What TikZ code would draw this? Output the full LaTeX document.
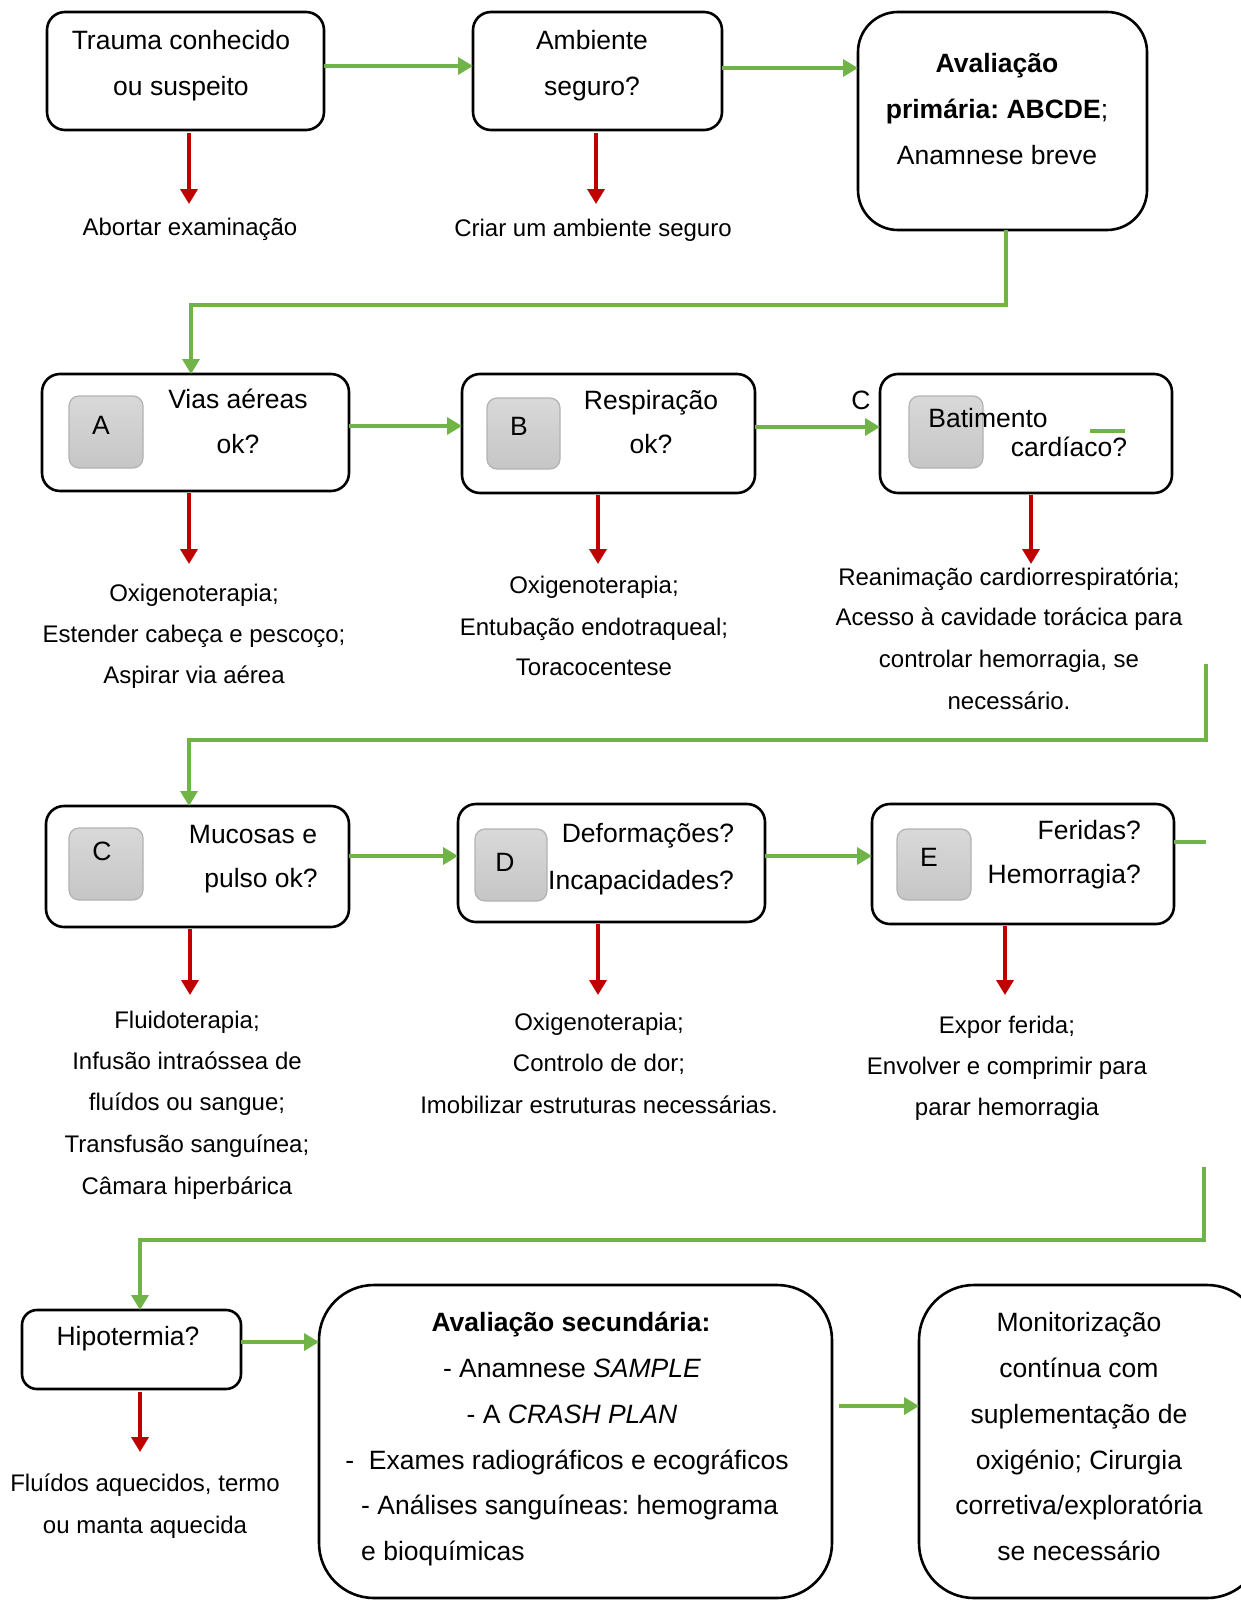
\documentclass[tikz,border=0pt]{standalone}
\usepackage{fontspec}
\setmainfont{Liberation Sans}
\usetikzlibrary{arrows.meta}
\definecolor{grn}{RGB}{112,180,71}
\definecolor{rd}{RGB}{192,0,0}
\frenchspacing
\begin{document}
\begin{tikzpicture}[x=1pt,y=-1pt,
  box/.style={draw=black, line width=2.6pt, rounded corners=18pt, inner sep=0pt, outer sep=0pt},
  sq/.style={draw=gray!60, line width=1.2pt, rounded corners=10pt, top color=gray!30, bottom color=gray!45, minimum width=74pt, minimum height=72pt, inner sep=0pt},
  ga/.style={draw=grn, line width=3.5pt, -{Triangle[length=15pt,width=17pt]}},
  gl/.style={draw=grn, line width=3.5pt},
  ra/.style={draw=rd, line width=3.5pt, -{Triangle[length=15pt,width=17pt]}},
  bt/.style={font=\fontsize{26.5}{30}\selectfont, anchor=base, inner sep=0pt},
  lb/.style={font=\fontsize{24}{28}\selectfont, anchor=base, inner sep=0pt}]
\useasboundingbox (0,0) rectangle (1241,1600);
\clip (0,0) rectangle (1241,1600);

% boxes
\node[box, minimum width=277pt, minimum height=118pt] (b1) at (185.5,71) {};
\node[box, minimum width=249pt, minimum height=118pt] (b2) at (597.5,71) {};
\node[box, rounded corners=40pt, minimum width=289pt, minimum height=218pt] (b3) at (1002.5,121) {};
\node[box, minimum width=307pt, minimum height=117pt] (bA) at (195.5,432.5) {};
\node[box, minimum width=293pt, minimum height=119pt] (bB) at (608.5,433.5) {};
\node[box, minimum width=292pt, minimum height=119pt] (bC) at (1026,433.5) {};
\node[box, minimum width=303pt, minimum height=121pt] (bC2) at (197.5,866.5) {};
\node[box, minimum width=307pt, minimum height=118pt] (bD) at (611.5,863) {};
\node[box, minimum width=302pt, minimum height=120pt] (bE) at (1023,864) {};
\node[box, rounded corners=15pt, minimum width=219pt, minimum height=79pt] (bH) at (131.5,1349.5) {};
\node[box, rounded corners=55pt, minimum width=513pt, minimum height=313pt] (bS) at (575.5,1441.5) {};
\node[box, rounded corners=55pt, minimum width=343pt, minimum height=313pt] (bM) at (1090.5,1441.5) {};

% grey letter squares
\node[sq] (sA) at (106,432) {};
\node[sq, minimum width=73pt, minimum height=71pt] (sB) at (523.5,433.5) {};
\node[sq] (sC) at (946,432) {};
\node[sq] (sC2) at (106,864) {};
\node[sq, minimum width=72pt] (sD) at (511,865) {};
\node[sq, minimum height=71pt] (sE) at (934,864.5) {};

% box texts
\node[bt] (t1a) at (181,49.5) {Trauma conhecido};
\node[bt] (t1b) at (181,95.5) {ou suspeito};
\node[bt] (t2a) at (592,49.5) {Ambiente};
\node[bt] (t2b) at (592,95.5) {seguro?};
\node[bt] (t3a) at (997,72.5) {\textbf{Avaliação}};
\node[bt] (t3b) at (997,118.5) {\textbf{primária: ABCDE};};
\node[bt] (t3c) at (997,164.5) {Anamnese breve};

\node[bt] (lA) at (101,434.5) {A};
\node[bt] (tAa) at (238,408.5) {Vias aéreas};
\node[bt] (tAb) at (238,453.5) {ok?};
\node[bt] (lB) at (519,435.5) {B};
\node[bt] (tBa) at (651,409.5) {Respiração};
\node[bt] (tBb) at (651,453.5) {ok?};
\node[bt] (lCout) at (861,409.5) {C};
\node[bt] (tCa) at (988,427.5) {Batimento};
\node[bt] (tCb) at (1069,456.5) {cardíaco?};

\node[bt] (lC2) at (102,860.5) {C};
\node[bt] (tC2a) at (253,843.5) {Mucosas e};
\node[bt] (tC2b) at (261,887.5) {pulso ok?};
\node[bt] (lD) at (505,871.5) {D};
\node[bt] (tDa) at (648,842.5) {Deformações?};
\node[bt] (tDb) at (641,889.5) {Incapacidades?};
\node[bt] (lE) at (929,866.5) {E};
\node[bt, anchor=base east] (tEa) at (1141,839.3) {Feridas?};
\node[bt, anchor=base east] (tEb) at (1141,883) {Hemorragia?};

\node[bt] (tH) at (128,1345.5) {Hipotermia?};

\node[bt] (tS1) at (571,1331.5) {\textbf{Avaliação secundária:}};
\node[bt] (tS2) at (572,1377.5) {- Anamnese \textit{SAMPLE}};
\node[bt] (tS3) at (572,1423.5) {- A \textit{CRASH PLAN}};
\node[bt] (tS4) at (567,1469.5) {-\ \ Exames radiográficos e ecográficos};
\node[bt, anchor=base west] (tS5) at (361,1514.5) {- Análises sanguíneas: hemograma};
\node[bt, anchor=base west] (tS6) at (361,1560.5) {e bioquímicas};

\node[bt] (tM1) at (1079,1331.5) {Monitorização};
\node[bt] (tM2) at (1079,1377.5) {contínua com};
\node[bt] (tM3) at (1079,1423.5) {suplementação de};
\node[bt] (tM4) at (1079,1469.5) {oxigénio; Cirurgia};
\node[bt] (tM5) at (1079,1514.5) {corretiva/exploratória};
\node[bt] (tM6) at (1079,1560.5) {se necessário};

% labels under boxes
\node[lb] (l1) at (190,235.6) {Abortar examinação};
\node[lb] (l2) at (593,236.6) {Criar um ambiente seguro};
\node[lb] (lA1) at (194,601.6) {Oxigenoterapia;};
\node[lb] (lA2) at (194,642.6) {Estender cabeça e pescoço;};
\node[lb] (lA3) at (194,683.6) {Aspirar via aérea};
\node[lb] (lB1) at (594,593.6) {Oxigenoterapia;};
\node[lb] (lB2) at (594,635.6) {Entubação endotraqueal;};
\node[lb] (lB3) at (594,675.6) {Toracocentese};
\node[lb] (lC1) at (1009,585.6) {Reanimação cardiorrespiratória;};
\node[lb] (lC2x) at (1009,625.6) {Acesso à cavidade torácica para};
\node[lb] (lC3) at (1009,667.6) {controlar hemorragia, se};
\node[lb] (lC4) at (1009,709.6) {necessário.};
\node[lb] (m1) at (187,1028.6) {Fluidoterapia;};
\node[lb] (m2) at (187,1069.6) {Infusão intraóssea de};
\node[lb] (m3) at (187,1110.6) {fluídos ou sangue;};
\node[lb] (m4) at (187,1152.6) {Transfusão sanguínea;};
\node[lb] (m5) at (187,1194.6) {Câmara hiperbárica};
\node[lb] (n1) at (599,1030.6) {Oxigenoterapia;};
\node[lb] (n2) at (599,1071.6) {Controlo de dor;};
\node[lb] (n3) at (599,1113.6) {Imobilizar estruturas necessárias.};
\node[lb] (o1) at (1007,1033.6) {Expor ferida;};
\node[lb] (o2) at (1007,1074.6) {Envolver e comprimir para};
\node[lb] (o3) at (1007,1115.6) {parar hemorragia};
\node[lb] (h1) at (145,1491.6) {Fluídos aquecidos, termo};
\node[lb] (h2) at (145,1533.6) {ou manta aquecida};

% green horizontal arrows
\draw[ga] ([yshift=5pt]b1.east) -- ([yshift=5pt]b1.east -| b2.west);
\draw[ga] ([yshift=3pt]b2.east) -- ([yshift=3pt]b2.east -| b3.west);
\draw[ga] ([yshift=6.5pt]bA.east) -- ([yshift=6.5pt]bA.east -| bB.west);
\draw[ga] ([yshift=6.5pt]bB.east) -- ([yshift=6.5pt]bB.east -| bC.west);
\draw[ga] ([yshift=10.5pt]bC2.east) -- ([yshift=10.5pt]bC2.east -| bD.west);
\draw[ga] ([yshift=7pt]bD.east) -- ([yshift=7pt]bD.east -| bE.west);
\draw[ga] ([yshift=7.5pt]bH.east) -- ([yshift=7.5pt]bH.east -| bS.west);
\coordinate (sm) at (839,1406);
\draw[ga] ([xshift=7pt]bS.east |- sm) -- (sm -| bM.west);

% green free lines
\coordinate (c1a) at (1090,431);
\coordinate (c1b) at (1125,431);
\draw[gl] (c1a) -- (c1b);
\coordinate (eE) at (1206,842);
\draw[gl] (bE.east |- eE) -- (eE);

% green long connectors
\coordinate (g1) at (1006,305);
\draw[ga] (b3.south -| g1) -- (g1) -| ([xshift=-4.5pt]bA.north);
\coordinate (g2s) at (1206,664);
\coordinate (g2) at (1206,740);
\draw[ga] (g2s) -- (g2) -| ([xshift=-8.5pt]bC2.north);
\coordinate (g3s) at (1204,1167);
\coordinate (g3) at (1204,1240);
\draw[ga] (g3s) -- (g3) -| ([xshift=8.5pt]bH.north);

% red arrows
\coordinate (r1) at (189,204);
\coordinate (r2) at (596,204);
\coordinate (rA) at (189,564);
\coordinate (rB) at (598,564);
\coordinate (rC) at (1031,564);
\coordinate (rC2) at (190,995);
\coordinate (rD) at (598,995);
\coordinate (rE) at (1005,995);
\coordinate (rH) at (140,1452);
\draw[ra] ([yshift=-3pt]b1.south -| r1) -- (r1);
\draw[ra] ([yshift=-3pt]b2.south -| r2) -- (r2);
\draw[ra] ([yshift=-2pt]bA.south -| rA) -- (rA);
\draw[ra] ([yshift=-2pt]bB.south -| rB) -- (rB);
\draw[ra] ([yshift=-2pt]bC.south -| rC) -- (rC);
\draw[ra] ([yshift=-2pt]bC2.south -| rC2) -- (rC2);
\draw[ra] ([yshift=-2pt]bD.south -| rD) -- (rD);
\draw[ra] ([yshift=-2pt]bE.south -| rE) -- (rE);
\draw[ra] ([yshift=-3pt]bH.south -| rH) -- (rH);
\end{tikzpicture}
\end{document}
